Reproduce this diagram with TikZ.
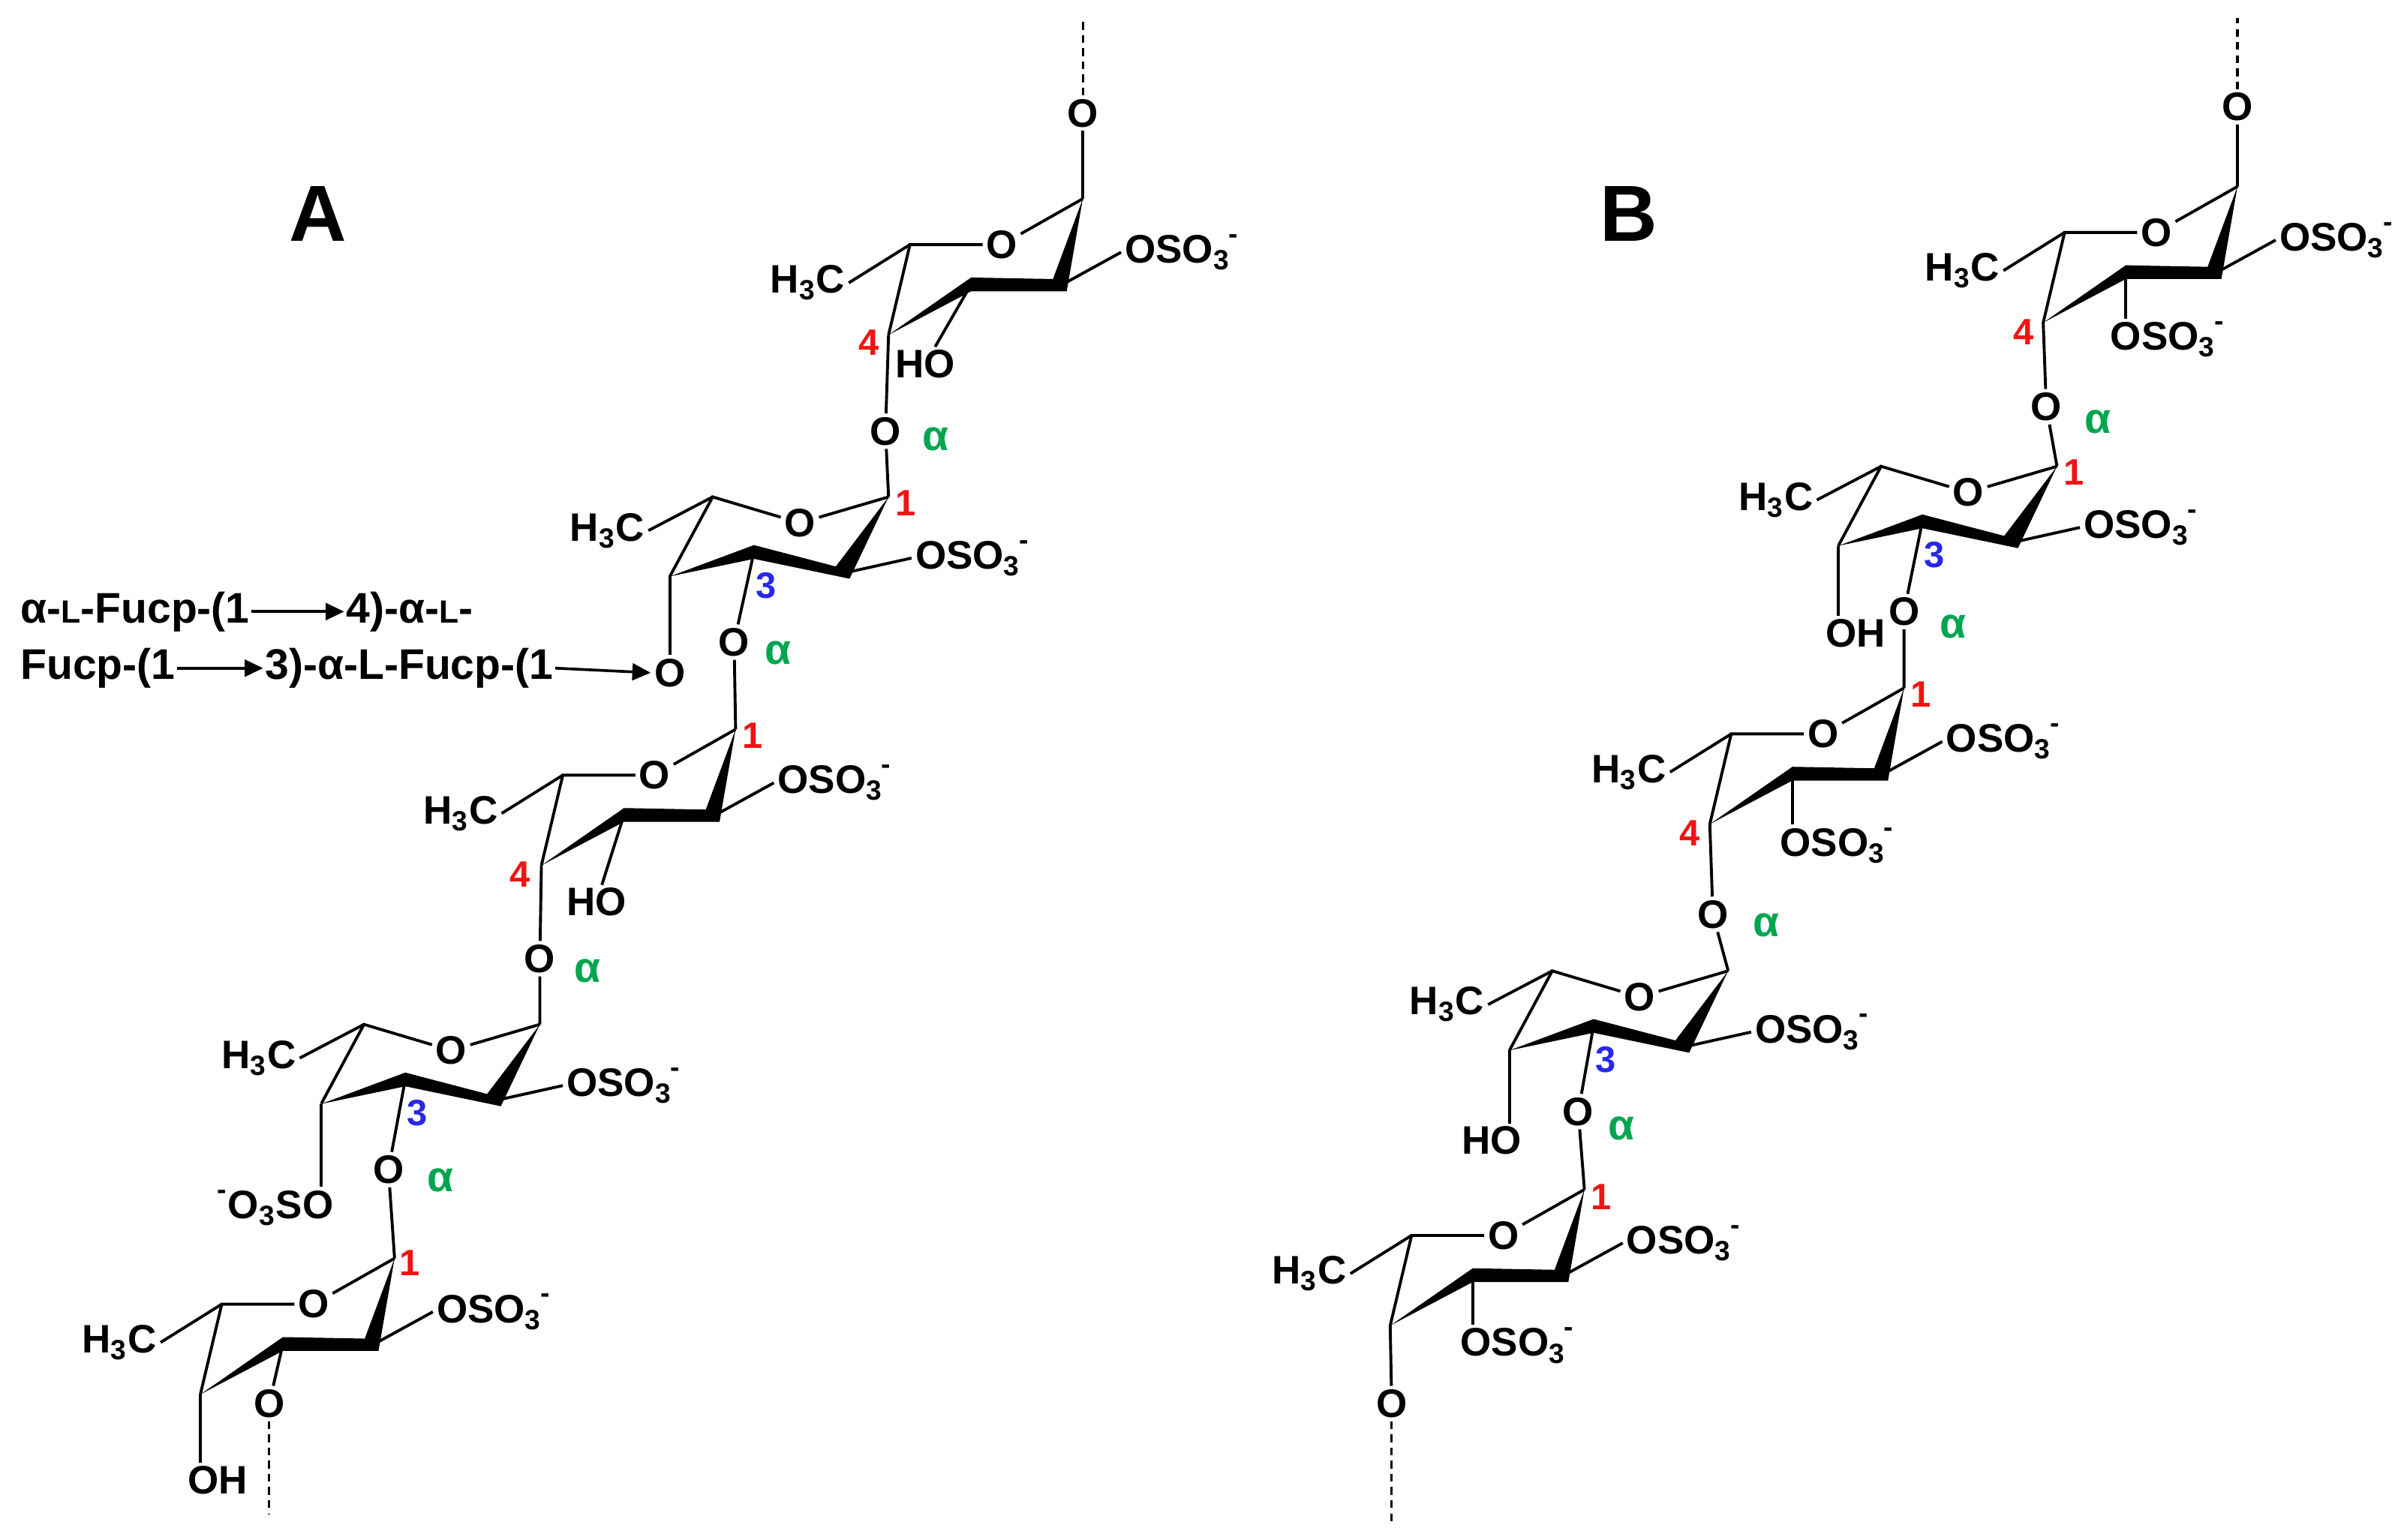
\documentclass[tikz,border=0pt]{standalone}
\usepackage{fontspec}
\setmainfont{Liberation Sans}
\usetikzlibrary{calc,arrows.meta}
\definecolor{nred}{RGB}{240,20,20}
\definecolor{nblue}{RGB}{40,40,230}
\definecolor{agreen}{RGB}{0,165,80}
\newcommand\chemf{\bfseries\fontsize{13}{14}\selectfont}
\newcommand\oso{OSO\textsubscript{3}\kern-0.5pt\raisebox{0.3ex}{\textsuperscript{-}}}
\newcommand\sL{{\fontsize{10.5}{12}\selectfont L}}
\tikzset{
  bond/.style={line width=0.95pt},
  dashb/.style={line width=0.75pt,dash pattern=on 2.5pt off 1.8pt},
  atom/.style={inner sep=1pt,font=\chemf},
  lbl/.style={inner sep=0.8pt,font=\chemf},
  num/.style={inner sep=0pt,font=\bfseries\fontsize{12}{12}\selectfont},
  al/.style={inner sep=0pt,text=agreen,font=\bfseries\fontsize{14}{14}\selectfont},
  txt/.style={inner sep=0.5pt,font=\bfseries\fontsize{14}{16}\selectfont},
  arr/.style={line width=0.9pt,-{Triangle[length=6pt,width=5.5pt]}},
}
\newcommand\ringdraw[1]{%
  \draw[bond] (#1-1) -- (#1-O) -- (#1-5) -- (#1-4);
  \fill (#1-1) -- ($(#1-2)+(4.5,3.5)$) -- ($(#1-3)+(0,4.5)$) -- (#1-4) -- ($(#1-3)+(0,-4.5)$) -- ($(#1-2)+(-4.5,-4.5)$) -- cycle;}
\newcommand\ringa[3]{%
  \begin{scope}[shift={(#2,#3)}]
    \node[atom] (#1-O) at (0,0) {O};
    \coordinate (#1-1) at (53,-30);
    \coordinate (#1-2) at (38,27);
    \coordinate (#1-3) at (-20,26);
    \coordinate (#1-4) at (-74,59);
    \coordinate (#1-5) at (-60,0);
  \end{scope}
  \ringdraw{#1}
  \draw[bond] (#1-5) -- ++(-40,25) node[lbl,anchor=east] (#1-m) {H\textsubscript{3}C};
  \draw[bond] (#1-2) -- ++(40,-22) node[lbl,anchor=west] (#1-s) {\oso};}
\newcommand\ringb[3]{%
  \begin{scope}[shift={(#2,#3)}]
    \node[atom] (#1-O) at (0,0) {O};
    \coordinate (#1-1) at (58,-17);
    \coordinate (#1-2) at (28,33);
    \coordinate (#1-3) at (-30,19);
    \coordinate (#1-4) at (-85,35);
    \coordinate (#1-5) at (-57,-17);
  \end{scope}
  \ringdraw{#1}
  \draw[bond] (#1-5) -- ++(-42,22) node[lbl,anchor=east] (#1-m) {H\textsubscript{3}C};
  \draw[bond] (#1-2) -- ++(45,-10) node[lbl,anchor=west] (#1-s) {\oso};}
\begin{document}
\begin{tikzpicture}[x=0.5pt,y=-0.5pt]
\useasboundingbox[fill=white] (0,0) rectangle (1568,1007);
\node[font=\bfseries\fontsize{26}{26}\selectfont] (labA) at (208,140) {A};
\node[font=\bfseries\fontsize{26}{26}\selectfont] (labB) at (1065,140) {B};

% ================= Panel A =================
\ringa{a1}{655}{160}
\ringb{a2}{523}{342}
\ringa{a3}{428}{507}
\ringb{a4}{295}{687}
\ringa{a5}{205}{853}

\node[atom] (a1-u) at (708,74) {O};
\coordinate (a1-t) at (708,12);
\draw[bond] (a1-1) -- (a1-u);
\draw[dashb] (a1-u) -- (a1-t);
\node[lbl] (a1-h) at (605,238) {HO};
\draw[bond] (a1-3) -- (a1-h);
\node[num,text=nred] (a1-n) at (568,224) {4};
\node[atom] (a1-l) at (579,282) {O};
\node[al] (a1-a) at (612,287) {α};
\draw[bond] (a1-4) -- (a1-l) -- (a2-1);

\node[num,text=nred] (a2-n1) at (592,329) {1};
\node[num,text=nblue] (a2-n3) at (501,383) {3};
\node[atom] (a2-l) at (480,420) {O};
\node[al] (a2-a) at (509,427) {α};
\draw[bond] (a2-3) -- (a2-l) -- (a3-1);
\node[atom] (a2-x) at (438,440) {O};
\draw[bond] (a2-4) -- (a2-x);

\node[txt,anchor=west] (t1) at (12,400) {α-\sL-Fucp-(1};
\node[txt,anchor=west] (t1b) at (225,400) {4)-α-\sL-};
\draw[arr] (t1.east) -- (t1b.west);
\node[txt,anchor=west] (t2) at (12,437) {Fucp-(1};
\node[txt,anchor=west] (t2b) at (172,437) {3)-α-L-Fucp-(1};
\draw[arr] (t2.east) -- (t2b.west);
\draw[arr] (t2b.east) -- (a2-x.west);

\node[num,text=nred] (a3-n1) at (492,481) {1};
\node[lbl] (a3-h) at (390,590) {HO};
\draw[bond] (a3-3) -- (a3-h);
\node[num,text=nred] (a3-n4) at (340,572) {4};
\node[atom] (a3-l) at (353,627) {O};
\node[al] (a3-a) at (384,635) {α};
\draw[bond] (a3-4) -- (a3-l) -- (a4-1);

\node[num,text=nblue] (a4-n3) at (273,728) {3};
\node[atom] (a4-l) at (254,765) {O};
\node[al] (a4-a) at (288,772) {α};
\draw[bond] (a4-3) -- (a4-l) -- (a5-1);
\node[lbl,anchor=east] (a4-q) at (220,790) {\raisebox{0.3ex}{\textsuperscript{-}}O\textsubscript{3}SO};
\draw[bond] (a4-4) -- (a4-4 |- a4-q.north);

\node[num,text=nred] (a5-n1) at (268,826) {1};
\node[atom] (a5-l) at (176,918) {O};
\coordinate (a5-t) at (176,990);
\draw[bond] (a5-3) -- (a5-l);
\draw[dashb] (a5-l) -- (a5-t);
\node[lbl,anchor=west] (a5-h) at (121,968) {OH};
\draw[bond] (a5-4) -- (a5-4 |- a5-h.north);

% ================= Panel B =================
\ringa{b1}{1410}{152}
\ringb{b2}{1287}{322}
\ringa{b3}{1192}{480}
\ringb{b4}{1072}{652}
\ringa{b5}{983}{808}

\node[atom] (b1-u) at (1463,70) {O};
\coordinate (b1-t) at (1463,12);
\draw[bond] (b1-1) -- (b1-u);
\draw[dashb] (b1-u) -- (b1-t);
\node[num,text=nred] (b1-n4) at (1323,217) {4};
\node[lbl,anchor=west] (b1-q) at (1378,222) {\oso};
\draw[bond] (b1-3) -- (b1-3 |- b1-q.north);
\node[atom] (b1-l) at (1338,266) {O};
\node[al] (b1-a) at (1372,276) {α};
\draw[bond] (b1-4) -- (b1-l) -- (b2-1);

\node[num,text=nred] (b2-n1) at (1356,309) {1};
\node[num,text=nblue] (b2-n3) at (1265,363) {3};
\node[atom] (b2-l) at (1245,400) {O};
\node[al] (b2-a) at (1277,410) {α};
\draw[bond] (b2-3) -- (b2-l) -- (b3-1);
\node[lbl,anchor=west] (b2-h) at (1192,414) {OH};
\draw[bond] (b2-4) -- (b2-4 |- b2-h.north);

\node[num,text=nred] (b3-n1) at (1256,454) {1};
\node[num,text=nred] (b3-n4) at (1105,545) {4};
\node[lbl,anchor=west] (b3-q) at (1162,553) {\oso};
\draw[bond] (b3-3) -- (b3-3 |- b3-q.north);
\node[atom] (b3-l) at (1120,598) {O};
\node[al] (b3-a) at (1155,605) {α};
\draw[bond] (b3-4) -- (b3-l) -- (b4-1);

\node[num,text=nblue] (b4-n3) at (1050,693) {3};
\node[atom] (b4-l) at (1032,727) {O};
\node[al] (b4-a) at (1060,738) {α};
\draw[bond] (b4-3) -- (b4-l) -- (b5-1);
\node[lbl,anchor=east] (b4-h) at (997,746) {HO};
\draw[bond] (b4-4) -- (b4-4 |- b4-h.north);

\node[num,text=nred] (b5-n1) at (1047,783) {1};
\node[lbl,anchor=west] (b5-q) at (953,880) {\oso};
\draw[bond] (b5-3) -- (b5-3 |- b5-q.north);
\node[atom] (b5-l) at (910,918) {O};
\coordinate (b5-t) at (910,995);
\draw[bond] (b5-4) -- (b5-l);
\draw[dashb] (b5-l) -- (b5-t);
\end{tikzpicture}
\end{document}
